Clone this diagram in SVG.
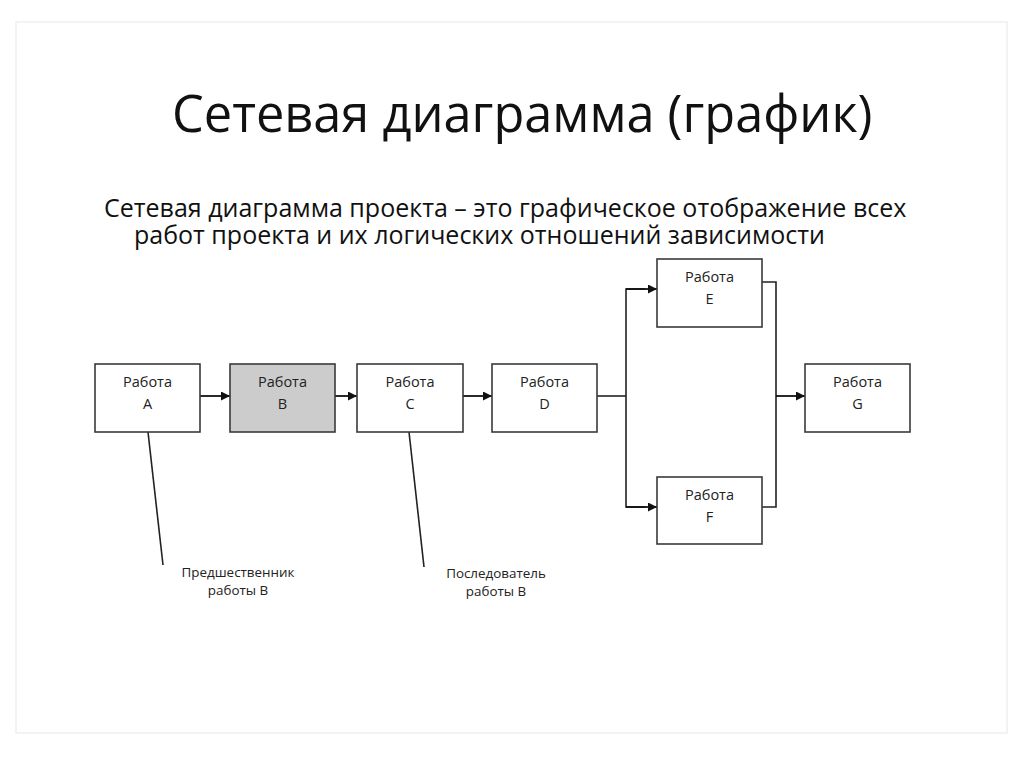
<svg xmlns="http://www.w3.org/2000/svg" width="1024" height="767" viewBox="0 0 1024 767">
<defs>
<marker id="arr" viewBox="0 0 10 10" refX="10" refY="5" markerWidth="9" markerHeight="9" markerUnits="userSpaceOnUse" orient="auto">
<path d="M0,0 L10,5 L0,10 z" fill="#111"/>
</marker>
<style>
.box{fill:#fff;stroke:#3a3a3a;stroke-width:1.6}
.grey{fill:#cccccc}
.lbl{font-family:"Open Sans","Liberation Sans",sans-serif;font-size:14.5px;fill:#222;text-anchor:middle}
.note{font-family:"Open Sans","Liberation Sans",sans-serif;font-size:13.4px;fill:#222;text-anchor:middle}
.ln{fill:none;stroke:#222;stroke-width:1.6}
.ar{fill:none;stroke:#111;stroke-width:1.8;marker-end:url(#arr)}
.sub{font-family:"Open Sans","Liberation Sans",sans-serif;font-size:25px;fill:#111}
</style>
</defs>
<rect x="0" y="0" width="1024" height="767" fill="#fff"/>
<rect x="16" y="22" width="991" height="711" fill="none" stroke="#f3f3f3" stroke-width="2"/>
<text x="172" y="132" font-family="Open Sans, Liberation Sans, sans-serif" font-size="50.5" fill="#111">Сетевая диаграмма (график)</text>
<text class="sub" x="104" y="217">Сетевая диаграмма проекта – это графическое отображение всех</text>
<text class="sub" x="134" y="244">работ проекта и их логических отношений зависимости</text>
<g id="connectors">
<line class="ar" x1="200" y1="396" x2="230" y2="396"/>
<line class="ar" x1="335" y1="396" x2="357" y2="396"/>
<line class="ar" x1="463" y1="396" x2="492" y2="396"/>
<polyline class="ln" points="597,396 626,396"/>
<polyline class="ln" points="645,289 626,289 626,507 645,507"/>
<line class="ar" x1="626" y1="289" x2="657" y2="289"/>
<line class="ar" x1="626" y1="507" x2="657" y2="507"/>
<polyline class="ln" points="762,282 776,282 776,507 762,507"/>
<line class="ar" x1="776" y1="396" x2="805" y2="396"/>
<line class="ln" x1="148" y1="432" x2="163" y2="565"/>
<line class="ln" x1="409" y1="432" x2="424" y2="567"/>
</g>
<g id="nodeA"><rect class="box" x="95" y="364" width="105" height="68"/><text class="lbl" x="147.5" y="387">Работа</text><text class="lbl" x="147.5" y="409">A</text></g>
<g id="nodeB"><rect class="box grey" x="230" y="364" width="105" height="68"/><text class="lbl" x="282.5" y="387">Работа</text><text class="lbl" x="282.5" y="409">B</text></g>
<g id="nodeC"><rect class="box" x="357" y="364" width="106" height="68"/><text class="lbl" x="410" y="387">Работа</text><text class="lbl" x="410" y="409">C</text></g>
<g id="nodeD"><rect class="box" x="492" y="364" width="105" height="68"/><text class="lbl" x="544.5" y="387">Работа</text><text class="lbl" x="544.5" y="409">D</text></g>
<g id="nodeE"><rect class="box" x="657" y="259" width="105" height="68"/><text class="lbl" x="709.5" y="282">Работа</text><text class="lbl" x="709.5" y="304">E</text></g>
<g id="nodeF"><rect class="box" x="657" y="477" width="105" height="67"/><text class="lbl" x="709.5" y="500">Работа</text><text class="lbl" x="709.5" y="522">F</text></g>
<g id="nodeG"><rect class="box" x="805" y="364" width="105" height="68"/><text class="lbl" x="857.5" y="387">Работа</text><text class="lbl" x="857.5" y="409">G</text></g>
<g id="noteA"><text class="note" x="238" y="577">Предшественник</text><text class="note" x="238" y="595">работы В</text></g>
<g id="noteC"><text class="note" x="496" y="578">Последователь</text><text class="note" x="496" y="596">работы В</text></g>
</svg>
